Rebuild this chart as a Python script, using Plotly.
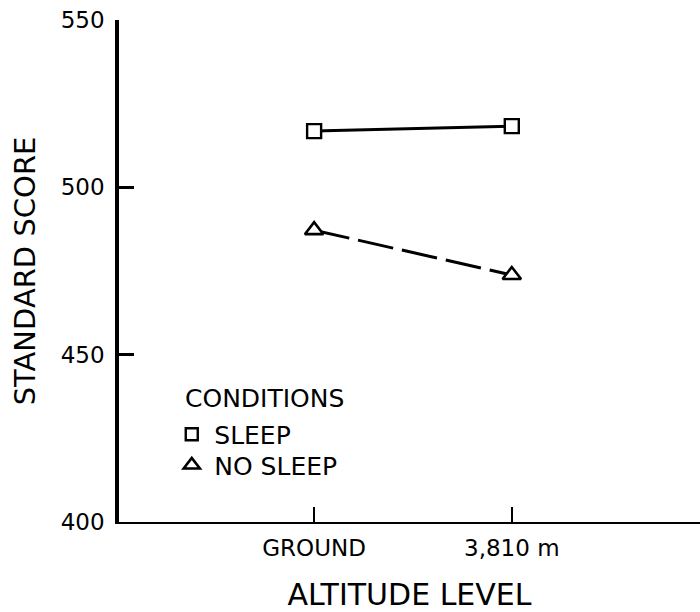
import plotly.graph_objects as go

categories = ["GROUND", "3,810 m"]
cat_pos = [0, 1]
sleep = [516.8, 518.3]
no_sleep = [487.2, 473.8]
y_ticks = [400, 450, 500, 550]

FONT = "DejaVu Sans"

fig = go.Figure()
fig.add_trace(go.Scatter(
    x=cat_pos, y=sleep, mode="lines+markers", showlegend=False,
    line=dict(color="black", width=3),
    marker=dict(symbol="square", size=14, color="white",
                line=dict(color="black", width=2.4)),
))
fig.add_trace(go.Scatter(
    x=cat_pos, y=no_sleep, mode="lines+markers", showlegend=False,
    line=dict(color="black", width=3, dash="36px,9px"),
    marker=dict(symbol="triangle-up", size=16, color="white",
                line=dict(color="black", width=2.6)),
))
# legend entries (marker only), one legend box each
fig.add_trace(go.Scatter(
    x=[None], y=[None], mode="markers", name="SLEEP", legend="legend",
    marker=dict(symbol="square", size=12, color="white",
                line=dict(color="black", width=2.4)),
))
fig.add_trace(go.Scatter(
    x=[None], y=[None], mode="markers", name="NO SLEEP", legend="legend2",
    marker=dict(symbol="triangle-up", size=14, color="white",
                line=dict(color="black", width=2.6)),
))

leg_common = dict(xanchor="left", yanchor="top", font=dict(size=25),
                  bgcolor="rgba(0,0,0,0)", itemsizing="trace", itemwidth=35)

fig.update_layout(
    width=700, height=612,
    margin=dict(l=119, r=0, t=20, b=88),
    paper_bgcolor="white", plot_bgcolor="white",
    font=dict(family=FONT, size=23, color="black"),
    legend=dict(x=0.0865, y=0.220, **leg_common),
    legend2=dict(x=0.0865, y=0.159, **leg_common),
    annotations=[dict(
        text="CONDITIONS", xref="paper", yref="paper",
        x=0.111, y=0.246, xanchor="left", yanchor="middle",
        showarrow=False, font=dict(size=25),
    )],
    xaxis=dict(
        range=[-0.987, 1.952], tickvals=cat_pos, ticktext=categories,
        showline=True, linecolor="black", linewidth=2,
        ticks="inside", ticklen=15, tickwidth=2, tickcolor="black",
        showgrid=False, zeroline=False,
        tickfont=dict(size=23), ticklabelstandoff=4,
        title=dict(text="ALTITUDE LEVEL", font=dict(size=30), standoff=30),
    ),
    yaxis=dict(
        range=[400, 550], tickvals=y_ticks,
        showline=True, linecolor="black", linewidth=3.5,
        ticks="inside", ticklen=15, tickwidth=2.5, tickcolor="black",
        showgrid=False, zeroline=False,
        tickfont=dict(size=23), ticklabelstandoff=6,
        title=dict(text="STANDARD SCORE", font=dict(size=29), standoff=18),
    ),
)

fig.write_html("out.html", config={"displayModeBar": False},
               post_script="document.body.style.margin='0';")
